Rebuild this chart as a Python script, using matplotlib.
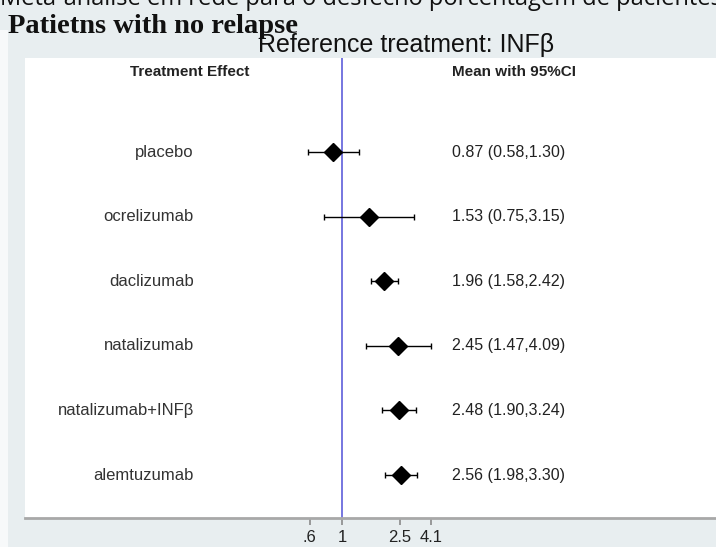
import numpy as np
import matplotlib.pyplot as plt
import matplotlib.transforms as mtransforms
from matplotlib.patches import Rectangle

treatments = [
    "placebo",
    "ocrelizumab",
    "daclizumab",
    "natalizumab",
    "natalizumab+INFβ",
    "alemtuzumab",
]
mean_effect = np.array([0.87, 1.53, 1.96, 2.45, 2.48, 2.56])
ci_lower = np.array([0.58, 0.75, 1.58, 1.47, 1.90, 1.98])
ci_upper = np.array([1.30, 3.15, 2.42, 4.09, 3.24, 3.30])

tick_values = [0.6, 1, 2.5, 4.1]
tick_labels = [".6", "1", "2.5", "4.1"]

fig_w, fig_h = 716, 547
fig = plt.figure(figsize=(fig_w / 100, fig_h / 100), dpi=100)
fig.patch.set_facecolor("#e8eef0")
fig.patches.append(
    Rectangle((0, 0), 8 / fig_w, 1 - 30 / fig_h, transform=fig.transFigure,
              facecolor="#f7f9fa", edgecolor="none", zorder=0)
)

# white plotting panel (pixel layout)
left_px, top_px, bottom_px = 25, 58, 518
ax = fig.add_axes([
    left_px / fig_w,
    (fig_h - bottom_px) / fig_h,
    (fig_w - left_px) / fig_w,
    (bottom_px - top_px) / fig_h,
])
ax.set_facecolor("white")

# log x axis: value 1 sits at x=342 px, ~63 px per natural-log unit
ref_px, px_per_ln = 342, 63.0
ax.set_xscale("log")
ax.set_xlim(np.exp(-(ref_px - left_px) / px_per_ln),
            np.exp((fig_w - ref_px) / px_per_ln))

rows = np.arange(len(treatments))
row_gap_px = 64.6
first_row_px = 152
ax.set_ylim(len(treatments) - 1 + (bottom_px - (first_row_px + 5 * row_gap_px)) / row_gap_px,
            -(first_row_px - top_px) / row_gap_px)

ax.axvline(1, color="#7676e0", lw=1.4, zorder=1)

ax.errorbar(
    mean_effect,
    rows,
    xerr=[mean_effect - ci_lower, ci_upper - mean_effect],
    fmt="D",
    color="black",
    ms=9,
    elinewidth=1.0,
    capsize=2.5,
    capthick=1.0,
    zorder=3,
)

for side in ["top", "right", "left"]:
    ax.spines[side].set_visible(False)
ax.spines["bottom"].set_color("#a8a8a8")
ax.spines["bottom"].set_linewidth(2)
ax.set_yticks([])
ax.set_xticks(tick_values)
ax.set_xticklabels(tick_labels)
ax.minorticks_off()
ax.tick_params(axis="x", direction="out", length=5, width=1.2,
               color="#8a8a8a", labelsize=12, pad=4, labelcolor="#222222")
for lab in ax.get_xticklabels():
    lab.set_family("Liberation Sans")

row_trans = mtransforms.blended_transform_factory(fig.transFigure, ax.transData)
head_trans = mtransforms.blended_transform_factory(fig.transFigure, ax.transAxes)

for i, name in enumerate(treatments):
    ax.text(194 / fig_w, rows[i], name, transform=row_trans,
            ha="right", va="center", fontsize=12, color="#333333",
            family="Liberation Sans")
    ax.text(452 / fig_w, rows[i],
            f"{mean_effect[i]:.2f} ({ci_lower[i]:.2f},{ci_upper[i]:.2f})",
            transform=row_trans, ha="left", va="center", fontsize=11.5,
            color="#222222", family="Liberation Sans")

head_y = (bottom_px - 72) / (bottom_px - top_px)
ax.text(190 / fig_w, head_y, "Treatment Effect", transform=head_trans,
        ha="center", va="center", fontsize=11, fontweight="bold",
        color="#222222", family="Liberation Sans")
ax.text(452 / fig_w, head_y, "Mean with 95%CI", transform=head_trans,
        ha="left", va="center", fontsize=11, fontweight="bold",
        color="#222222", family="Liberation Sans")

# titles above the panel
fig.text(8 / fig_w, 1 - 33 / fig_h, "Patietns with no relapse",
         ha="left", va="baseline", fontsize=20.5, fontweight="bold",
         family="Liberation Serif", color="#111111")
fig.text(258 / fig_w, 1 - 52 / fig_h, "Reference treatment: INFβ",
         ha="left", va="baseline", fontsize=18,
         family=["Liberation Sans Narrow", "Liberation Sans"], color="#111111")
fig.text(0, 1 - 5 / fig_h,
         "Meta-análise em rede para o desfecho porcentagem de pacientes",
         ha="left", va="baseline", fontsize=17,
         family="Open Sans", color="#111111")

fig.savefig("out.png", dpi=100, facecolor=fig.get_facecolor())
